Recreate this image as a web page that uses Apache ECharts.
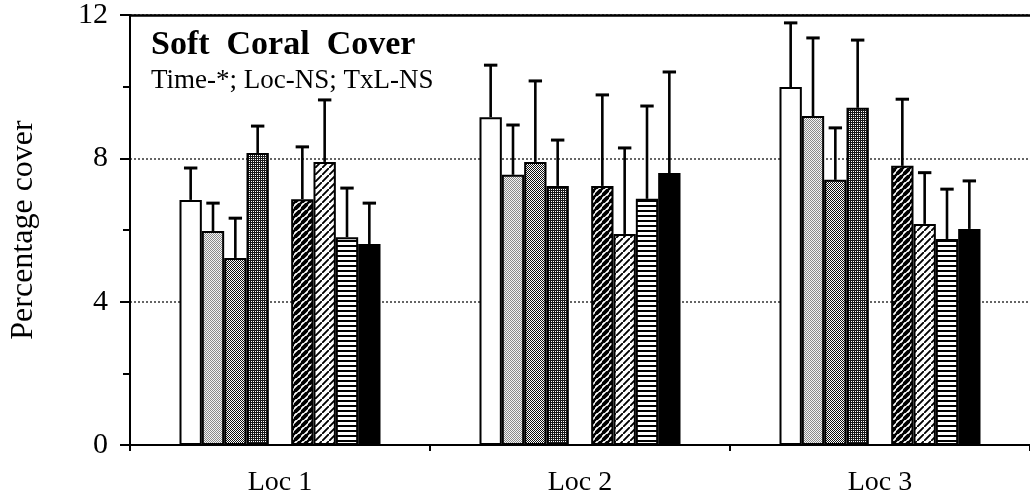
<!DOCTYPE html>
<html><head><meta charset="utf-8">
<script src="https://cdn.jsdelivr.net/npm/echarts@6/dist/echarts.min.js"></script>
<style>html,body{margin:0;padding:0;background:#fff}#c{width:1030px;height:502px}</style>
</head><body><div id="c"></div>
<script>
// ---- data ----
const categories = ['Loc 1', 'Loc 2', 'Loc 3'];
const yTicks = [0, 4, 8, 12];
const titleText = 'Soft  Coral  Cover';
const subText = 'Time-*; Loc-NS; TxL-NS';
const yName = 'Percentage cover';
// means (percentage cover) per treatment, one value per location
const mean1 = [6.84, 9.15, 9.99];
const mean2 = [5.97, 7.54, 9.18];
const mean3 = [5.22, 7.90, 7.40];
const mean4 = [8.15, 7.23, 9.41];
const mean5 = [6.86, 7.23, 7.79];
const mean6 = [7.90, 5.89, 6.17];
const mean7 = [5.80, 6.87, 5.75];
const mean8 = [5.61, 7.59, 6.03];
// upper error bar lengths
const err1 = [0.89, 1.45, 1.79];
const err2 = [0.78, 1.39, 2.18];
const err3 = [1.11, 2.26, 1.45];
const err4 = [0.75, 1.28, 1.89];
const err5 = [1.46, 2.54, 1.86];
const err6 = [1.73, 2.40, 1.43];
const err7 = [1.37, 2.59, 1.39];
const err8 = [1.14, 2.82, 1.34];

const means = [mean1, mean2, mean3, mean4, mean5, mean6, mean7, mean8];
const errs = [err1, err2, err3, err4, err5, err6, err7, err8];

// ---- patterns ----
function tile(w, h, draw, bg) {
  const cv = document.createElement('canvas');
  cv.width = w; cv.height = h;
  const ctx = cv.getContext('2d');
  ctx.fillStyle = bg || '#fff'; ctx.fillRect(0, 0, w, h);
  ctx.fillStyle = '#000'; ctx.strokeStyle = '#000';
  draw(ctx, w, h);
  return { image: cv, repeat: 'repeat' };
}
function pix(n, fn, col, bg) {
  return tile(n, n, function (ctx) {
    ctx.fillStyle = col || '#000';
    for (let x = 0; x < n; x++) for (let y = 0; y < n; y++) if (fn(x, y)) ctx.fillRect(x, y, 1, 1);
  }, bg);
}
function diag(lw) {
  return tile(7, 7, function (ctx, w, h) {
    ctx.lineWidth = lw; ctx.lineCap = 'square';
    ctx.beginPath();
    ctx.moveTo(-1, h + 1); ctx.lineTo(w + 1, -1);
    ctx.moveTo(-2, 1); ctx.lineTo(1, -2);
    ctx.moveTo(w - 1, h + 2); ctx.lineTo(w + 2, h - 1);
    ctx.stroke();
  });
}
const fills = [
  '#ffffff',
  pix(2, (x, y) => (x + y) % 2 === 0, '#8a8a8a', '#f4f4f4'),
  pix(2, (x, y) => (x + y) % 2 === 0, '#111'),
  pix(2, (x, y) => !(x === 1 && y === 1), '#1a1a1a'),
  diag(3.8),
  diag(1.9),
  tile(4, 5, function (ctx) { ctx.fillRect(0, 0, 4, 2); }),
  '#000000'
];

const CAT_GAP = 0.33;
const N_SLOTS = 9;
const slotOf = i => (i < 4 ? i : i + 1);

const series = [];
means.forEach(function (m, i) {
  series.push({
    type: 'bar', name: 'Treatment ' + (i + 1), data: m,
    barGap: '0%', barCategoryGap: (CAT_GAP * 100) + '%',
    itemStyle: { color: fills[i], borderColor: '#000', borderWidth: 2 },
    emphasis: { disabled: true }, z: 2
  });
  if (i === 3) {
    series.push({ type: 'bar', name: 'gap', data: categories.map(() => null), barGap: '0%', barCategoryGap: (CAT_GAP * 100) + '%', silent: true });
  }
});

const errData = [];
means.forEach(function (m, i) {
  m.forEach(function (v, c) { errData.push([c, slotOf(i), v, errs[i][c]]); });
});

series.push({
  type: 'custom', name: 'error', data: errData, encode: { x: 0, y: 2 }, z: 3, silent: true,
  renderItem: function (params, api) {
    const c = api.value(0), slot = api.value(1), m = api.value(2), se = api.value(3);
    const base = api.coord([c, 0]);
    const band = api.size([1, 0])[0];
    const group = band * (1 - CAT_GAP);
    const slotW = group / N_SLOTS;
    const x = base[0] - group / 2 + slotW * (slot + 0.5);
    const y0 = api.coord([c, m])[1];
    const y1 = api.coord([c, m + se])[1];
    const cap = slotW * 0.6;
    const st = { stroke: '#000', lineWidth: 2.6 };
    return {
      type: 'group', children: [
        { type: 'line', shape: { x1: x, y1: y0, x2: x, y2: y1 }, style: st },
        { type: 'line', shape: { x1: x - cap / 2, y1: y1, x2: x + cap / 2, y2: y1 }, style: { stroke: '#000', lineWidth: 3 } }
      ]
    };
  }
});

const serif = 'Liberation Serif';
const chart = echarts.init(document.getElementById('c'), null, { renderer: 'canvas' });
chart.setOption({
  backgroundColor: '#fff',
  animation: false,
  title: {
    text: titleText, subtext: subText, left: 146, top: 23, itemGap: 5,
    textStyle: { fontFamily: serif, fontWeight: 'bold', fontSize: 34, color: '#000' },
    subtextStyle: { fontFamily: serif, fontSize: 27, color: '#000' }
  },
  grid: { left: 127, right: -3, top: 15, bottom: 57 },
  xAxis: [{
    type: 'category', data: categories, position: 'bottom',
    axisLine: { lineStyle: { color: '#000', width: 2 } },
    axisTick: { show: true, length: 6, lineStyle: { color: '#000', width: 2 } },
    axisLabel: { fontFamily: serif, fontSize: 28, color: '#000', margin: 24 }
  }, {
    type: 'category', data: categories, position: 'top',
    axisLine: { lineStyle: { color: '#000', width: 2.5 } },
    axisTick: { show: false }, axisLabel: { show: false }
  }],
  yAxis: {
    type: 'value', min: yTicks[0], max: yTicks[yTicks.length - 1], interval: yTicks[1] - yTicks[0],
    name: yName, nameLocation: 'middle', nameRotate: 90, nameGap: 90,
    nameTextStyle: { fontFamily: serif, fontSize: 32, color: '#000' },
    axisLine: { show: true, lineStyle: { color: '#000', width: 2 } },
    axisTick: { show: true, length: 10, lineStyle: { color: '#000', width: 2 } },
    minorTick: { show: true, splitNumber: 2, length: 7, lineStyle: { color: '#000', width: 2 } },
    axisLabel: { fontFamily: serif, fontSize: 30, color: '#000', margin: 22 },
    splitLine: { show: true, lineStyle: { color: '#333', type: [2, 2], width: 1.5 } }
  },
  series: series
});
</script></body></html>
